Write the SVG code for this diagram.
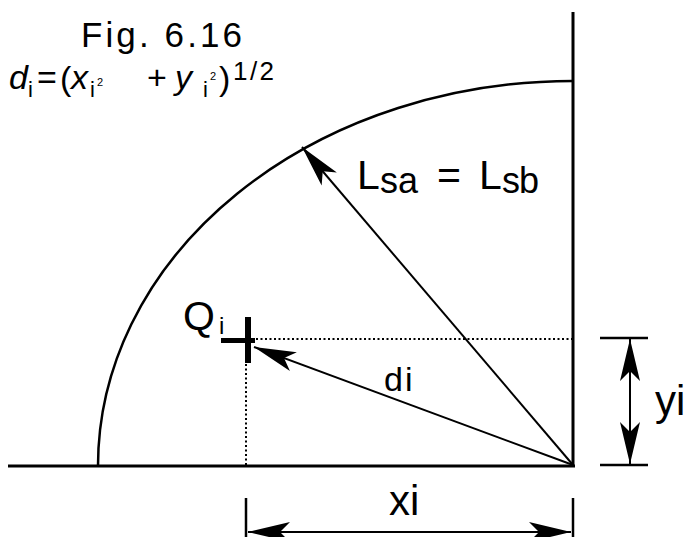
<svg xmlns="http://www.w3.org/2000/svg" width="694" height="537" viewBox="0 0 694 537">
<style>
.t{font-family:"Liberation Sans",Arial,sans-serif;fill:#000}
.it{font-style:italic}
.ln{stroke:#000;fill:none}
.dot{stroke:#000;stroke-width:2;stroke-dasharray:2,2.5;fill:none}
</style>
<defs>
<marker id="ah" viewBox="-44 -12 46 24" markerWidth="46" markerHeight="24" refX="0" refY="0" markerUnits="userSpaceOnUse" orient="auto-start-reverse">
<path d="M0,0 L-42,-10 L-32,0 L-42,10 Z" fill="#000"/>
</marker>
</defs>
<rect width="694" height="537" fill="#fff"/>
<g id="title">
<text class="t" x="81" y="47" font-size="35" textLength="161">Fig. 6.16</text>
<text class="t it" x="9" y="89" font-size="34">d</text>
<text class="t" x="28" y="97" font-size="22">i</text>
<text class="t" x="37" y="89" font-size="34">=</text>
<text class="t" x="60" y="90" font-size="34">(</text>
<text class="t it" x="71" y="89" font-size="34">x</text>
<text class="t" x="90" y="97" font-size="22">i</text>
<text class="t" x="97" y="86" font-size="11">2</text>
<text class="t" x="147" y="89" font-size="34">+</text>
<text class="t it" x="175" y="89" font-size="34">y</text>
<text class="t" x="203" y="97" font-size="22">i</text>
<text class="t" x="210" y="80" font-size="11">2</text>
<text class="t" x="219" y="90" font-size="34">)</text>
<text class="t" x="233" y="80" font-size="26" textLength="41">1/2</text>
</g>
<g id="axes">
<line class="ln" x1="573" y1="12" x2="573" y2="467" stroke-width="3"/>
<line class="ln" x1="8" y1="466" x2="575" y2="466" stroke-width="3"/>
</g>
<g id="arc">
<path class="ln" d="M98,466 A475,385 0 0 1 573,81" stroke-width="2.5"/>
</g>
<g id="Qi">
<rect x="221" y="338" width="34" height="5" fill="#000"/>
<rect x="245" y="317" width="6" height="46" fill="#000"/>
<text class="t" x="183" y="330" font-size="41">Q</text>
<text class="t" x="219" y="334" font-size="24">i</text>
</g>
<g id="connectors">
<line class="dot" x1="256" y1="339" x2="572" y2="339"/>
<line class="dot" x1="246" y1="364" x2="246" y2="465"/>
<line class="ln" x1="573" y1="465" x2="302" y2="147" stroke-width="2" marker-end="url(#ah)"/>
<line class="ln" x1="573" y1="465" x2="254" y2="347" stroke-width="2" marker-end="url(#ah)"/>
<line class="ln" x1="600" y1="338" x2="648" y2="338" stroke-width="2.5"/>
<line class="ln" x1="600" y1="465" x2="648" y2="465" stroke-width="2.5"/>
<line class="ln" x1="630" y1="339" x2="630" y2="464" stroke-width="2" marker-start="url(#ah)" marker-end="url(#ah)"/>
<line class="ln" x1="246" y1="498" x2="246" y2="537" stroke-width="2.5"/>
<line class="ln" x1="573" y1="498" x2="573" y2="537" stroke-width="2.5"/>
<line class="ln" x1="248" y1="532" x2="571" y2="532" stroke-width="2" marker-start="url(#ah)" marker-end="url(#ah)"/>
</g>
<g id="labels">
<text class="t" x="357" y="189" font-size="41">L</text>
<text class="t" x="380" y="193" font-size="36" textLength="38">sa</text>
<text class="t" x="437" y="189" font-size="41">=</text>
<text class="t" x="479" y="189" font-size="41">L</text>
<text class="t" x="502" y="193" font-size="36" textLength="37">sb</text>
<text class="t" x="384" y="391" font-size="34" letter-spacing="2">di</text>
<text class="t" x="655" y="415" font-size="42">yi</text>
<text class="t" x="389" y="515" font-size="42">xi</text>
</g>
</svg>
